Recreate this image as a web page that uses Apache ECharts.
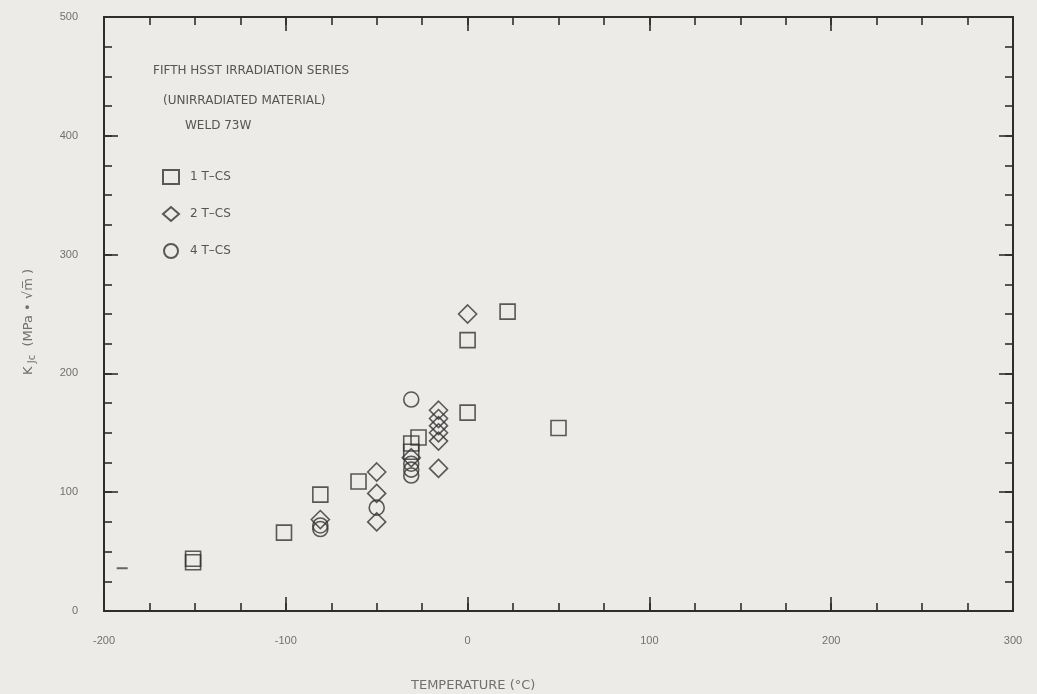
<!DOCTYPE html>
<html>
<head>
<meta charset="utf-8">
<title>KJc vs Temperature — Weld 73W</title>
<script src="https://cdn.jsdelivr.net/npm/echarts@6/dist/echarts.min.js"></script>
<style>
  html, body { margin: 0; padding: 0; background: #ecebe8; }
  #chart { width: 1037px; height: 694px; }
</style>
</head>
<body>
<div id="chart"></div>
<script>
// Fracture toughness data, [temperature °C, KJc MPa·√m]
const oneTCS = [
  [-151, 41], [-151, 44], [-101, 66], [-81, 98], [-60, 109],
  [-27, 146], [-31, 141], [-31, 134], [0, 228], [22, 252], [0, 167], [50, 154]
];
const twoTCS = [
  [-81, 77], [-50, 117], [-50, 99], [-50, 75], [-31, 129],
  [-16, 169], [-16, 162], [-16, 156], [-16, 150], [-16, 143], [-16, 120], [0, 250]
];
const fourTCS = [
  [-81, 72], [-81, 69], [-50, 87], [-31, 178], [-31, 124], [-31, 119], [-31, 114]
];
const strayMark = [[-190, 36]];

const seriesNames = ['1 T\u2013CS', '2 T\u2013CS', '4 T\u2013CS'];
const headingLines = ['FIFTH HSST IRRADIATION SERIES', '(UNIRRADIATED MATERIAL)', 'WELD 73W'];
const xName = 'TEMPERATURE (\u00B0C)';

const X_MIN = -200, X_MAX = 300, Y_MIN = 0, Y_MAX = 500;

const ink = '#2e2e2e';
const textGrey = '#707070';
const headGrey = '#555555';
const tickFont = "'Liberation Sans', 'DejaVu Sans', sans-serif";
const textFont = "'DejaVu Sans', 'Liberation Sans', sans-serif";

// Each side gets two axes: one carries the 25-step minor ticks, the other the 100-step major ticks
function axisPair(kind, position, withLabels) {
  const base = {
    type: 'value', position,
    min: kind === 'x' ? X_MIN : Y_MIN,
    max: kind === 'x' ? X_MAX : Y_MAX,
    splitLine: { show: false },
    axisLine: { show: true, onZero: false, lineStyle: { color: ink, width: 2 } }
  };
  const minor = Object.assign({}, base, {
    interval: 25,
    axisTick: { show: true, inside: true, length: 8, lineStyle: { color: ink, width: 1.6 } },
    axisLabel: { show: false }
  });
  const major = Object.assign({}, base, {
    interval: 100,
    axisTick: { show: true, inside: true, length: 14, lineStyle: { color: ink, width: 1.6 } },
    axisLabel: {
      show: withLabels, color: textGrey, fontFamily: tickFont, fontSize: 11,
      margin: kind === 'x' ? 24 : 26
    }
  });
  return [minor, major];
}

const bottomX = axisPair('x', 'bottom', true);
const topX = axisPair('x', 'top', false);
const leftY = axisPair('y', 'left', true);
const rightY = axisPair('y', 'right', false);
const xAxis = [bottomX[0], bottomX[1], topX[0], topX[1]];
const yAxis = [leftY[0], leftY[1], rightY[0], rightY[1]];

yAxis[1].name = '{k|K}{sub| Jc}{k|  (MPa \u2022 \u221Am\u0305 )}';
yAxis[1].nameLocation = 'middle';
yAxis[1].nameGap = 67;
yAxis[1].nameTextStyle = {
  color: textGrey, fontFamily: textFont, padding: [0, 16, 0, 0],
  rich: {
    k: { fontSize: 13, color: textGrey, fontFamily: textFont },
    sub: { fontSize: 10, color: textGrey, fontFamily: textFont, verticalAlign: 'bottom', padding: [7, 0, 0, 0] }
  }
};

const outline = { color: 'rgba(0,0,0,0)', borderColor: '#333', borderWidth: 1.6 };
const headStyle = { fontSize: 12, fontWeight: 'normal', color: headGrey, fontFamily: textFont };

const option = {
  backgroundColor: '#ecebe8',
  animation: false,
  grid: { left: 104, right: 24, top: 17, bottom: 83, containLabel: false },
  title: [
    { text: headingLines[0], left: 153, top: 65, padding: 0, textStyle: headStyle },
    { text: headingLines[1], left: 163, top: 95, padding: 0, textStyle: headStyle },
    { text: headingLines[2], left: 185, top: 120, padding: 0, textStyle: headStyle },
    { text: xName, left: 411, top: 679, padding: 0,
      textStyle: { fontSize: 13, fontWeight: 'normal', color: textGrey, fontFamily: textFont } }
  ],
  legend: {
    orient: 'vertical', left: 157, top: 164,
    itemWidth: 16, itemHeight: 14, itemGap: 21,
    data: seriesNames,
    textStyle: { fontSize: 12, color: headGrey, fontFamily: textFont, padding: [0, 0, 0, 6] }
  },
  xAxis,
  yAxis,
  series: [
    { name: seriesNames[0], type: 'scatter', symbol: 'rect', symbolSize: 15, data: oneTCS, itemStyle: outline },
    { name: seriesNames[1], type: 'scatter', symbol: 'diamond', symbolSize: 18, data: twoTCS, itemStyle: outline },
    { name: seriesNames[2], type: 'scatter', symbol: 'circle', symbolSize: 15, data: fourTCS, itemStyle: outline },
    { name: 'mark', type: 'scatter', symbol: 'rect', symbolSize: [11, 2], data: strayMark,
      itemStyle: { color: '#444' }, legendHoverLink: false }
  ]
};

const chart = echarts.init(document.getElementById('chart'), null, { renderer: 'canvas' });
chart.setOption(option);
</script>
</body>
</html>
